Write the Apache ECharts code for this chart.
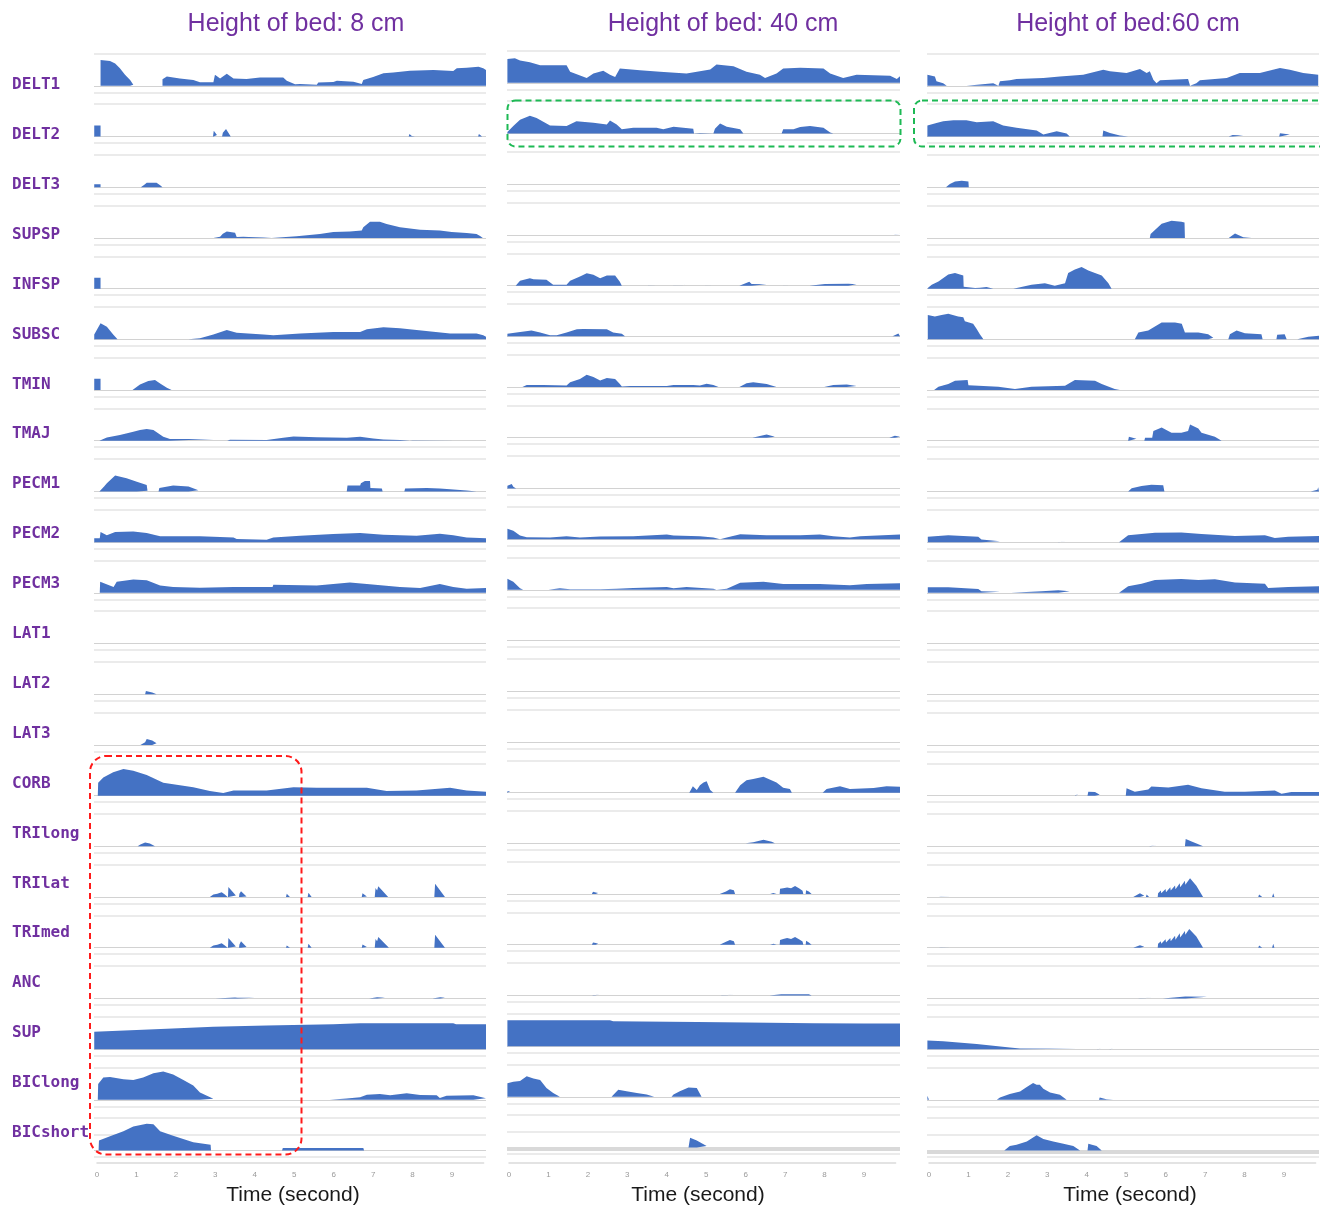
<!DOCTYPE html>
<html><head><meta charset="utf-8">
<script src="https://cdn.jsdelivr.net/npm/echarts@6/dist/echarts.min.js"></script>
<style>html,body{margin:0;padding:0;background:#fff}#c{width:1320px;height:1207px}</style>
</head><body><div id="c"></div>
<script>
// ---------- categories / titles ----------
const muscles = ['DELT1','DELT2','DELT3','SUPSP','INFSP','SUBSC','TMIN','TMAJ','PECM1','PECM2','PECM3','LAT1','LAT2','LAT3','CORB','TRIlong','TRIlat','TRImed','ANC','SUP','BIClong','BICshort'];
const bedTitles = ['Height of bed: 8 cm','Height of bed: 40 cm','Height of bed:60 cm'];
const timeTicks = [0,1,2,3,4,5,6,7,8,9];
const axisName = 'Time (second)';

// ---------- bed 8 cm : [time (s), normalised activation] ----------
const c8_DELT1 = [[0.09,0],[0.09,0.8],[0.33,0.77],[0.46,0.69],[0.58,0.54],[0.71,0.34],[0.84,0.18],[0.92,0.03],[0.94,0],[1.03,0],[1.05,0.02],[1.07,0],[1.66,0],[1.66,0.2],[1.77,0.29],[2.10,0.23],[2.44,0.18],[2.61,0.11],[2.95,0.11],[2.99,0.34],[3.12,0.23],[3.29,0.37],[3.46,0.23],[3.79,0.21],[4.13,0.26],[4.72,0.26],[4.81,0.16],[5.02,0.05],[5.15,0.06],[5.57,0.03],[5.61,0.1],[5.99,0.12],[6.08,0.16],[6.50,0.13],[6.71,0.06],[6.75,0.18],[7.00,0.27],[7.26,0.39],[7.51,0.41],[7.93,0.47],[8.53,0.49],[9.03,0.46],[9.12,0.54],[9.37,0.56],[9.67,0.59],[9.79,0.54],[9.86,0.49]];
const c8_DELT2 = [[-0.07,0],[-0.07,0.34],[0.09,0.34],[0.09,0],[2.94,0],[2.96,0.18],[3.04,0.05],[3.08,0],[3.17,0],[3.19,0.12],[3.22,0.1],[3.27,0.23],[3.39,0],[7.22,0],[7.24,0.05],[7.27,0],[7.32,0],[7.34,0.05],[7.37,0],[7.49,0],[7.51,0.04],[7.54,0],[7.9,0],[7.92,0.08],[7.98,0.02],[8.06,0],[9.66,0],[9.68,0.08],[9.76,0]];
const c8_DELT3 = [[-0.07,0],[-0.07,0.09],[0.09,0.09],[0.09,0],[0.92,0],[0.95,0.02],[1.0,0],[1.11,0],[1.11,0.05],[1.2,0.08],[1.26,0.14],[1.51,0.14],[1.6,0.06],[1.66,0]];
const c8_SUPSP = [[2.95,0],[2.97,0.06],[3.12,0.04],[3.19,0.13],[3.29,0.2],[3.5,0.16],[3.54,0.03],[3.71,0.04],[3.84,0.03],[3.88,0.01],[4.22,0.01],[4.43,0],[4.47,0.03],[5.06,0.05],[5.1,0.1],[5.65,0.12],[5.99,0.18],[6.41,0.2],[6.71,0.23],[6.75,0.33],[6.92,0.5],[7.17,0.5],[7.34,0.43],[7.68,0.33],[8.19,0.25],[8.69,0.23],[8.99,0.18],[9.37,0.15],[9.62,0.12],[9.71,0.06],[9.78,0]];
const c8_INFSP = [[-0.07,0],[-0.07,0.34],[0.09,0.34],[0.09,0],[1.43,0],[1.47,0.03],[1.51,0]];
const c8_SUBSC = [[-0.07,0.15],[0.09,0.5],[0.25,0.39],[0.41,0.15],[0.52,0],[2.32,0],[2.61,0.03],[2.95,0.15],[3.29,0.29],[3.54,0.2],[4.22,0.15],[4.47,0.13],[5.15,0.18],[5.99,0.23],[6.67,0.23],[6.84,0.31],[7.26,0.37],[7.68,0.34],[8.10,0.29],[8.95,0.18],[9.62,0.18],[9.79,0.13],[9.86,0.08]];
const c8_TMIN = [[-0.07,0],[-0.07,0.35],[0.09,0.35],[0.09,0],[0.9,0],[0.92,0.05],[1.09,0.17],[1.30,0.28],[1.47,0.31],[1.60,0.2],[1.77,0.07],[1.89,0]];
const c8_TMAJ = [[0.06,0],[0.08,0.02],[0.25,0.1],[0.58,0.18],[0.92,0.28],[1.09,0.33],[1.26,0.36],[1.43,0.33],[1.55,0.23],[1.68,0.12],[1.85,0.05],[2.95,0.05],[2.99,0],[3.3,0],[3.37,0.03],[4.3,0.02],[4.72,0.09],[4.98,0.13],[5.57,0.11],[6.33,0.09],[6.67,0.12],[7.0,0.07],[7.26,0.04],[7.68,0.02],[7.93,0],[8.0,0.01],[9.12,0.01],[9.16,0]];
const c8_PECM1 = [[0.06,0],[0.08,0.02],[0.18,0.15],[0.25,0.25],[0.46,0.49],[0.75,0.41],[1.01,0.3],[1.26,0.2],[1.28,0.02],[1.32,0],[1.56,0],[1.58,0.11],[1.93,0.18],[2.32,0.15],[2.57,0.04],[2.61,0],[6.33,0],[6.35,0.18],[6.67,0.18],[6.69,0.25],[6.79,0.32],[6.92,0.32],[6.93,0.11],[7.22,0.09],[7.24,0],[7.79,0],[7.81,0.09],[8.36,0.11],[8.69,0.09],[8.95,0.07],[9.37,0.03],[9.62,0]];
const c8_PECM2 = [[-0.07,0.12],[0.07,0.12],[0.09,0.31],[0.25,0.21],[0.46,0.31],[0.92,0.33],[1.26,0.28],[1.6,0.18],[2.61,0.18],[3.46,0.14],[3.54,0.1],[4.3,0.07],[4.47,0.14],[5.15,0.2],[5.99,0.25],[6.67,0.28],[7.26,0.23],[8.1,0.2],[8.69,0.26],[9.03,0.21],[9.37,0.14],[9.86,0.12]];
const c8_PECM3 = [[-0.07,0],[0.07,0],[0.08,0.34],[0.42,0.18],[0.5,0.34],[0.92,0.41],[1.26,0.39],[1.6,0.23],[1.93,0.18],[2.61,0.16],[3.46,0.18],[4.45,0.18],[4.47,0.25],[5.57,0.23],[6.41,0.32],[6.84,0.27],[7.68,0.18],[8.19,0.15],[8.69,0.27],[9.03,0.18],[9.37,0.13],[9.86,0.15]];
const c8_LAT1 = [];
const c8_LAT2 = [[1.06,0],[1.09,0.03],[1.12,0],[1.22,0],[1.24,0.1],[1.4,0.05],[1.51,0]];
const c8_LAT3 = [[1.0,0],[1.05,0.02],[1.08,0],[1.1,0],[1.1,0.06],[1.22,0.08],[1.26,0.18],[1.4,0.14],[1.51,0.05],[1.52,0]];
const c8_CORB = [[0.02,0],[0.03,0.4],[0.16,0.56],[0.41,0.72],[0.67,0.82],[0.92,0.77],[1.26,0.64],[1.68,0.4],[2.44,0.26],[2.86,0.14],[3.2,0.08],[3.46,0.16],[4.3,0.16],[4.98,0.26],[5.57,0.24],[6.84,0.24],[7.34,0.14],[8.1,0.16],[8.95,0.24],[9.37,0.16],[9.86,0.12]];
const c8_TRIlong = [[1.03,0],[1.05,0.05],[1.1,0.06],[1.22,0.12],[1.34,0.09],[1.47,0],[3.43,0],[3.46,0.05],[3.5,0],[4.9,0],[4.93,0.05],[4.98,0],[5.46,0],[5.48,0.03],[5.5,0]];
const c8_TRIlat = [[2.86,0],[2.88,0.04],[2.95,0.08],[2.97,0.05],[3.05,0.1],[3.07,0.06],[3.16,0.15],[3.24,0.08],[3.29,0.05],[3.31,0],[3.32,0],[3.33,0.31],[3.52,0.05],[3.54,0],[3.6,0],[3.61,0.1],[3.65,0.18],[3.79,0.02],[3.8,0],[4.0,0],[4.02,0.02],[4.05,0],[4.79,0],[4.81,0.1],[4.89,0],[5.34,0],[5.36,0.13],[5.44,0],[6.71,0],[6.73,0.12],[6.84,0.02],[6.86,0],[7.04,0],[7.06,0.28],[7.1,0.2],[7.13,0.33],[7.38,0],[8.29,0],[8.31,0.02],[8.33,0],[8.55,0],[8.57,0.41],[8.82,0],[9.18,0],[9.2,0.02],[9.22,0],[9.48,0],[9.5,0.02],[9.52,0]];
const c8_TRImed = [[2.86,0],[2.88,0.03],[2.95,0.07],[2.97,0.04],[3.05,0.09],[3.07,0.05],[3.16,0.14],[3.24,0.07],[3.29,0.04],[3.31,0],[3.32,0],[3.33,0.3],[3.52,0.04],[3.54,0],[3.6,0],[3.61,0.1],[3.65,0.2],[3.79,0.02],[3.8,0],[4.0,0],[4.02,0.02],[4.05,0],[4.79,0],[4.81,0.07],[4.89,0],[5.34,0],[5.36,0.12],[5.44,0],[5.8,0],[5.82,0.01],[6.3,0.01],[6.32,0],[6.71,0],[6.73,0.1],[6.84,0.02],[6.86,0],[7.04,0],[7.06,0.27],[7.1,0.2],[7.13,0.33],[7.4,0],[8.29,0],[8.31,0.04],[8.33,0],[8.55,0],[8.57,0.4],[8.82,0],[9.18,0],[9.2,0.02],[9.22,0],[9.48,0],[9.5,0.02],[9.52,0]];
const c8_ANC = [[3.0,0],[3.02,0.02],[3.5,0.03],[3.56,0.02],[4.0,0.02],[4.02,0],[4.2,0],[4.22,0.02],[4.25,0],[4.45,0],[4.47,0.02],[4.5,0],[4.98,0],[5.0,0.02],[5.02,0],[5.5,0],[5.52,0.02],[5.55,0],[6.9,0],[6.92,0.02],[7.1,0.04],[7.3,0.02],[7.32,0],[8.5,0],[8.52,0.02],[8.7,0.04],[8.82,0.02],[8.84,0],[9.2,0],[9.22,0.02],[9.25,0],[9.64,0],[9.66,0.02],[9.68,0]];
const c8_SUP = [[-0.07,0.54],[1.77,0.63],[2.95,0.69],[4.3,0.73],[5.99,0.77],[6.67,0.8],[9.03,0.8],[9.1,0.77],[9.86,0.77]];
const c8_BIClong = [[0.02,0],[0.03,0.49],[0.16,0.69],[0.33,0.71],[0.67,0.64],[0.92,0.61],[1.17,0.69],[1.43,0.82],[1.68,0.88],[1.93,0.78],[2.19,0.61],[2.44,0.44],[2.61,0.23],[2.95,0.03],[2.99,0],[5.04,0],[5.06,0.03],[5.1,0],[5.5,0],[5.53,0.03],[5.56,0],[5.9,0],[5.95,0.06],[6.33,0.04],[6.67,0.08],[6.84,0.16],[7.17,0.18],[7.43,0.14],[7.85,0.2],[8.19,0.15],[8.61,0.14],[8.69,0.06],[8.86,0.13],[9.54,0.14],[9.86,0.05]];
const c8_BICshort = [[0.04,0],[0.05,0.31],[0.33,0.44],[0.67,0.6],[0.92,0.74],[1.26,0.83],[1.43,0.81],[1.6,0.6],[1.93,0.46],[2.44,0.26],[2.88,0.18],[2.89,0],[4.69,0],[4.71,0.08],[6.75,0.08],[6.77,0],[8.93,0],[8.95,0.04],[9.0,0]];

// ---------- bed 40 cm ----------
const c40_DELT1 = [[-0.04,0.74],[0.15,0.76],[0.28,0.69],[0.53,0.64],[0.79,0.54],[1.46,0.54],[1.55,0.34],[1.97,0.15],[2.14,0.29],[2.39,0.37],[2.56,0.25],[2.69,0.18],[2.81,0.44],[3.32,0.39],[3.83,0.34],[4.5,0.29],[5.1,0.41],[5.26,0.57],[5.69,0.51],[6.02,0.34],[6.36,0.25],[6.49,0.15],[6.78,0.29],[6.95,0.44],[7.38,0.47],[7.97,0.44],[8.14,0.29],[8.47,0.15],[8.81,0.25],[9.66,0.22],[9.83,0.12],[9.91,0.2]];
const c40_DELT2 = [[-0.04,0.05],[0.11,0.23],[0.28,0.43],[0.53,0.55],[0.7,0.48],[1.04,0.25],[1.46,0.23],[1.71,0.38],[2.14,0.33],[2.48,0.28],[2.56,0.4],[2.73,0.28],[2.86,0.13],[3.15,0.18],[3.74,0.18],[3.91,0.13],[4.17,0.21],[4.67,0.15],[4.69,0],[4.84,0.02],[5.18,0],[5.22,0.15],[5.35,0.31],[5.52,0.21],[5.86,0.13],[5.94,0],[6.91,0],[6.95,0.13],[7.21,0.13],[7.38,0.2],[7.63,0.23],[7.97,0.18],[8.14,0.03],[8.22,0],[8.45,0],[8.47,0.02],[8.5,0],[8.82,0],[8.85,0.03],[8.9,0],[9.55,0],[9.57,0.01],[9.7,0]];
const c40_DELT3 = [];
const c40_SUPSP = [[9.76,0],[9.78,0.04],[9.91,0.04]];
const c40_INFSP = [[0.17,0],[0.19,0.03],[0.28,0.15],[0.53,0.23],[0.62,0.2],[0.95,0.18],[1.12,0.03],[1.46,0.03],[1.55,0.15],[1.8,0.28],[1.97,0.38],[2.14,0.34],[2.31,0.23],[2.48,0.31],[2.69,0.31],[2.81,0.12],[2.86,0],[3.5,0],[3.53,0.03],[3.79,0.02],[3.81,0],[4.15,0],[4.17,0.04],[4.67,0.04],[4.69,0],[4.95,0],[4.97,0.03],[5.6,0.03],[5.62,0],[5.84,0],[5.86,0.04],[6.09,0.12],[6.15,0.05],[6.53,0.04],[6.55,0],[6.93,0],[6.95,0.03],[7.38,0.02],[7.4,0],[7.61,0],[7.63,0.03],[8.01,0.05],[8.6,0.06],[8.81,0.04],[8.83,0]];
const c40_SUBSC = [[-0.04,0.08],[0.19,0.12],[0.57,0.18],[0.79,0.12],[1.04,0.03],[1.08,0],[1.21,0.03],[1.46,0.12],[1.72,0.22],[1.88,0.23],[2.48,0.22],[2.64,0.12],[2.86,0.08],[2.94,0],[9.72,0],[9.74,0.03],[9.87,0.09],[9.91,0.11]];
const c40_TMIN = [[0.34,0],[0.36,0.03],[0.45,0.06],[0.87,0.06],[1.46,0.05],[1.55,0.15],[1.8,0.25],[1.97,0.38],[2.14,0.31],[2.31,0.2],[2.48,0.28],[2.69,0.25],[2.81,0.09],[2.86,0.02],[3.07,0.03],[4.0,0.03],[4.17,0.06],[4.67,0.06],[4.84,0.05],[5.01,0.1],[5.18,0.06],[5.31,0],[5.84,0],[5.86,0.02],[6.02,0.12],[6.19,0.15],[6.53,0.09],[6.78,0],[7.99,0],[8.01,0.03],[8.22,0.06],[8.56,0.08],[8.81,0.03],[8.83,0]];
const c40_TMAJ = [[6.17,0],[6.19,0.02],[6.36,0.05],[6.53,0.1],[6.74,0.03],[6.78,0],[9.64,0],[9.66,0.03],[9.78,0.06],[9.91,0.03]];
const c40_PECM1 = [[-0.04,0.08],[0.07,0.14],[0.11,0.05],[0.18,0]];
const c40_PECM2 = [[-0.04,0.32],[0.11,0.26],[0.28,0.11],[0.45,0.06],[1.04,0.05],[1.46,0.09],[1.8,0.05],[2.31,0.08],[3.15,0.09],[4.0,0.14],[4.17,0.11],[4.84,0.09],[5.18,0.05],[5.35,0],[5.52,0.05],[5.86,0.15],[6.53,0.12],[7.38,0.12],[7.88,0.14],[8.22,0.09],[8.64,0.05],[8.9,0.09],[9.91,0.14]];
const c40_PECM3 = [[-0.04,0.34],[0.11,0.25],[0.28,0.05],[0.36,0],[1.0,0],[1.04,0.03],[1.29,0.05],[1.55,0.02],[2.31,0.02],[2.73,0.03],[3.15,0.06],[4.0,0.09],[4.17,0.05],[4.5,0.09],[5.18,0.03],[5.26,0],[5.52,0.03],[5.86,0.22],[6.45,0.25],[6.95,0.18],[7.88,0.18],[8.64,0.14],[9.07,0.18],[9.91,0.2]];
const c40_LAT1 = [];
const c40_LAT2 = [];
const c40_LAT3 = [];
const c40_CORB = [[-0.04,0.04],[0.03,0.04],[0.04,0],[4.57,0],[4.59,0.03],[4.66,0.2],[4.76,0.08],[4.84,0.23],[4.93,0.31],[5.01,0.35],[5.1,0.08],[5.18,0],[5.73,0],[5.86,0.23],[6.02,0.38],[6.19,0.42],[6.45,0.49],[6.78,0.31],[6.95,0.15],[7.12,0.11],[7.17,0],[7.35,0],[7.4,0.02],[7.5,0],[7.95,0],[7.97,0.05],[8.05,0.11],[8.39,0.2],[8.64,0.11],[9.24,0.14],[9.57,0.2],[9.91,0.18]];
const c40_TRIlong = [[6.0,0],[6.02,0.02],[6.19,0.03],[6.45,0.11],[6.66,0.05],[6.74,0]];
const c40_TRIlat = [[1.62,0],[1.65,0.05],[1.7,0],[2.0,0],[2.03,0.04],[2.06,0],[2.1,0],[2.13,0.07],[2.2,0.05],[2.26,0.03],[2.28,0],[5.34,0],[5.36,0.06],[5.5,0.08],[5.6,0.15],[5.7,0.12],[5.73,0],[6.45,0],[6.5,0.04],[6.55,0],[6.62,0],[6.65,0.06],[6.7,0.03],[6.78,0],[6.86,0],[6.87,0.16],[6.95,0.18],[7.05,0.2],[7.15,0.18],[7.25,0.25],[7.35,0.18],[7.44,0.1],[7.46,0],[7.52,0],[7.53,0.12],[7.6,0.08],[7.67,0]];
const c40_TRImed = [[1.62,0],[1.65,0.04],[1.7,0],[2.0,0],[2.03,0.04],[2.06,0],[2.1,0],[2.13,0.07],[2.2,0.05],[2.26,0.03],[2.28,0],[5.34,0],[5.36,0.06],[5.5,0.09],[5.6,0.15],[5.7,0.11],[5.73,0],[6.45,0],[6.5,0.03],[6.55,0],[6.62,0],[6.65,0.06],[6.7,0.03],[6.78,0],[6.86,0],[6.87,0.15],[6.95,0.18],[7.05,0.21],[7.15,0.18],[7.25,0.24],[7.35,0.17],[7.44,0.1],[7.46,0],[7.52,0],[7.53,0.12],[7.6,0.07],[7.67,0]];
const c40_ANC = [[1.68,0],[1.7,0.03],[1.72,0],[2.1,0],[2.15,0.03],[2.3,0.03],[2.32,0],[5.35,0],[5.4,0.03],[5.75,0.03],[5.78,0],[6.6,0],[6.65,0.03],[6.9,0.04],[7.6,0.04],[7.67,0]];
const c40_SUP = [[-0.04,0.8],[2.56,0.8],[2.64,0.77],[4.76,0.75],[6.02,0.73],[7.71,0.71],[8.98,0.7],[9.91,0.7]];
const c40_BIClong = [[-0.04,0.42],[0.11,0.47],[0.28,0.49],[0.45,0.64],[0.62,0.57],[0.79,0.52],[0.95,0.27],[1.12,0.12],[1.29,0],[2.6,0],[2.69,0.12],[2.77,0.22],[2.98,0.17],[3.24,0.12],[3.49,0.07],[3.68,0],[4.12,0],[4.17,0.07],[4.33,0.17],[4.55,0.29],[4.76,0.27],[4.88,0],[9.85,0],[9.87,0.02],[9.91,0]];
const c40_BICshort = [[4.55,0],[4.59,0.3],[4.76,0.22],[5.01,0.05],[5.05,0],[9.55,0],[9.57,0.04],[9.65,0]];

// ---------- bed 60 cm ----------
const c60_DELT1 = [[-0.04,0.34],[0.15,0.29],[0.19,0.14],[0.36,0.08],[0.45,0],[0.95,0],[1.0,0.05],[1.63,0.08],[1.76,0],[1.8,0.14],[2.05,0.17],[2.22,0.21],[2.9,0.24],[3.32,0.29],[3.91,0.34],[4.42,0.5],[4.59,0.45],[5.01,0.4],[5.35,0.52],[5.52,0.4],[5.6,0.45],[5.69,0.19],[5.77,0.08],[5.86,0.17],[6.57,0.21],[6.62,0],[6.78,0.08],[6.87,0.17],[7.55,0.24],[7.88,0.4],[8.39,0.4],[8.9,0.55],[9.15,0.5],[9.49,0.4],[9.87,0.34]];
const c60_DELT2 = [[-0.04,0.34],[0.19,0.42],[0.36,0.47],[0.62,0.5],[0.95,0.5],[1.21,0.44],[1.63,0.47],[1.88,0.34],[2.22,0.27],[2.73,0.19],[2.9,0.06],[3.24,0.16],[3.49,0.09],[3.57,0],[4.4,0],[4.42,0.19],[4.59,0.11],[4.84,0.03],[5.05,0],[5.3,0],[5.32,0.02],[5.34,0],[7.6,0],[7.63,0.03],[7.7,0.05],[7.97,0.03],[8.0,0],[8.88,0],[8.9,0.1],[9.15,0.06],[9.2,0],[9.3,0],[9.32,0.02],[9.35,0]];
const c60_DELT3 = [[0.43,0],[0.53,0.1],[0.66,0.18],[0.83,0.2],[1.0,0.18],[1.01,0]];
const c60_SUPSP = [[5.6,0],[5.62,0.12],[5.9,0.44],[6.15,0.53],[6.4,0.5],[6.48,0.48],[6.49,0],[7.6,0],[7.63,0.03],[7.76,0.14],[7.97,0.02],[8.18,0],[8.79,0],[8.81,0.02],[8.84,0]];
const c60_INFSP = [[-0.03,0.02],[0.07,0.12],[0.24,0.22],[0.49,0.44],[0.66,0.48],[0.87,0.41],[0.88,0.06],[1.17,0.02],[1.29,0.03],[1.46,0.05],[1.63,0],[2.14,0],[2.6,0.12],[2.94,0.17],[3.19,0.09],[3.45,0.17],[3.53,0.48],[3.7,0.59],[3.87,0.67],[4.04,0.56],[4.21,0.48],[4.38,0.41],[4.55,0.17],[4.63,0]];
const c60_SUBSC = [[-0.03,0.75],[0.15,0.71],[0.32,0.75],[0.49,0.79],[0.74,0.71],[0.87,0.68],[0.91,0.56],[1.12,0.48],[1.21,0.32],[1.29,0.16],[1.38,0],[5.22,0],[5.31,0.21],[5.56,0.27],[5.73,0.4],[5.9,0.52],[6.24,0.52],[6.41,0.48],[6.49,0.21],[6.83,0.21],[7.08,0.16],[7.21,0.05],[7.25,0],[7.59,0],[7.63,0.16],[7.8,0.27],[8.01,0.19],[8.43,0.16],[8.46,0],[8.81,0],[8.83,0.14],[9.02,0.16],[9.07,0],[9.34,0],[9.36,0.05],[9.62,0.08],[9.89,0.11]];
const c60_TMIN = [[0.13,0],[0.15,0.02],[0.24,0.1],[0.49,0.19],[0.66,0.29],[0.98,0.31],[1.0,0.15],[1.76,0.1],[2.18,0.03],[2.6,0.1],[3.45,0.13],[3.7,0.31],[4.21,0.29],[4.38,0.19],[4.71,0.03],[4.84,0]];
const c60_TMAJ = [[5.05,0],[5.07,0.12],[5.26,0.06],[5.31,0],[5.46,0],[5.48,0.09],[5.66,0.09],[5.69,0.3],[5.9,0.41],[6.15,0.25],[6.4,0.25],[6.57,0.3],[6.62,0.5],[6.83,0.38],[6.91,0.25],[7.25,0.12],[7.42,0],[7.78,0],[7.8,0.03],[7.84,0],[8.07,0],[8.09,0.02],[8.12,0],[8.5,0],[8.52,0.02],[8.55,0]];
const c60_PECM1 = [[5.05,0],[5.07,0.03],[5.14,0.1],[5.39,0.17],[5.64,0.21],[5.94,0.19],[5.97,0],[9.68,0],[9.7,0.05],[9.85,0.05],[9.87,0.13],[9.89,0.13]];
const c60_PECM2 = [[-0.03,0.17],[0.49,0.21],[1.25,0.17],[1.33,0.08],[1.8,0.03],[1.84,0],[2.08,0],[2.1,0.02],[2.14,0],[3.26,0],[3.28,0.03],[3.53,0.03],[3.55,0],[4.82,0],[4.84,0.02],[5.05,0.21],[5.73,0.29],[6.4,0.3],[6.91,0.25],[7.76,0.19],[8.52,0.21],[8.77,0.13],[9.11,0.17],[9.89,0.19]];
const c60_PECM3 = [[-0.03,0.17],[0.49,0.17],[1.25,0.12],[1.33,0.05],[1.8,0.03],[1.84,0],[2.08,0],[2.1,0.03],[2.86,0.05],[3.28,0.08],[3.57,0.05],[3.62,0],[4.82,0],[4.84,0.03],[5.05,0.2],[5.39,0.28],[5.73,0.4],[6.4,0.43],[6.83,0.4],[7.25,0.42],[7.76,0.32],[8.52,0.28],[8.6,0.15],[9.11,0.18],[9.89,0.2]];
const c60_LAT1 = [];
const c60_LAT2 = [];
const c60_LAT3 = [[7.27,0],[7.29,0.02],[7.31,0]];
const c60_CORB = [[3.7,0],[3.72,0.03],[3.79,0.06],[3.84,0],[4.02,0],[4.04,0.12],[4.21,0.11],[4.33,0.03],[4.36,0],[4.99,0],[5.01,0.23],[5.22,0.12],[5.56,0.19],[5.64,0.28],[6.07,0.25],[6.57,0.34],[6.91,0.23],[7.5,0.12],[8.01,0.12],[8.77,0.16],[8.94,0.06],[9.19,0.11],[9.89,0.11]];
const c60_TRIlong = [[5.05,0],[5.07,0.03],[5.09,0],[5.58,0],[5.62,0.04],[5.77,0.03],[5.79,0],[6.3,0],[6.32,0.03],[6.34,0],[6.49,0],[6.51,0.23],[6.6,0.18],[6.66,0.15],[6.8,0.08],[6.95,0]];
const c60_TRIlat = [[0.25,0],[0.3,0.03],[0.55,0.03],[0.57,0],[5.18,0],[5.2,0.05],[5.35,0.12],[5.46,0.04],[5.48,0],[5.5,0],[5.52,0.08],[5.58,0],[5.8,0],[5.81,0.12],[5.88,0.2],[5.89,0.12],[6.0,0.25],[6.01,0.15],[6.12,0.3],[6.13,0.2],[6.24,0.36],[6.25,0.24],[6.36,0.43],[6.37,0.3],[6.49,0.5],[6.5,0.38],[6.62,0.58],[6.78,0.35],[6.95,0],[8.35,0],[8.37,0.08],[8.45,0],[8.7,0],[8.73,0.12],[8.76,0]];
const c60_TRImed = [[0.25,0],[0.3,0.02],[0.55,0.02],[0.57,0],[5.18,0],[5.2,0.05],[5.35,0.08],[5.46,0.03],[5.48,0],[5.5,0],[5.52,0.06],[5.58,0],[5.8,0],[5.81,0.12],[5.88,0.2],[5.89,0.12],[6.0,0.26],[6.01,0.16],[6.12,0.3],[6.13,0.2],[6.24,0.37],[6.25,0.25],[6.36,0.45],[6.37,0.32],[6.49,0.52],[6.5,0.4],[6.6,0.58],[6.78,0.35],[6.95,0],[8.35,0],[8.37,0.07],[8.45,0],[8.7,0],[8.73,0.12],[8.76,0]];
const c60_ANC = [[0.4,0],[0.43,0.03],[0.46,0],[5.3,0],[5.35,0.03],[5.7,0.03],[5.73,0],[5.93,0],[5.95,0.05],[6.5,0.06],[7.05,0.05],[7.08,0],[8.45,0],[8.5,0.03],[8.55,0],[8.8,0],[8.85,0.03],[8.9,0]];
const c60_SUP = [[-0.04,0.27],[0.36,0.24],[1.21,0.16],[2.05,0.05],[2.31,0.02],[3.74,0.01],[3.76,0],[4.25,0],[4.27,0.02],[4.4,0.02],[4.42,0],[4.57,0],[4.59,0.02],[4.7,0.02],[4.72,0]];
const c60_BIClong = [[-0.04,0.13],[0.0,0],[1.72,0],[1.8,0.07],[2.05,0.18],[2.31,0.26],[2.47,0.39],[2.64,0.52],[2.73,0.47],[2.81,0.47],[2.9,0.34],[3.07,0.23],[3.32,0.16],[3.49,0],[4.31,0],[4.33,0.07],[4.5,0.02],[4.67,0.02],[4.69,0]];
const c60_BICshort = [[1.91,0],[1.93,0.05],[2.05,0.14],[2.22,0.18],[2.48,0.28],[2.73,0.47],[2.9,0.36],[3.15,0.28],[3.41,0.21],[3.66,0.14],[3.83,0],[4.02,0],[4.04,0.21],[4.25,0.14],[4.38,0],[4.95,0],[5.01,0.03],[5.05,0]];

// ---------- assemble ----------
const bed8 = [c8_DELT1,c8_DELT2,c8_DELT3,c8_SUPSP,c8_INFSP,c8_SUBSC,c8_TMIN,c8_TMAJ,c8_PECM1,c8_PECM2,c8_PECM3,c8_LAT1,c8_LAT2,c8_LAT3,c8_CORB,c8_TRIlong,c8_TRIlat,c8_TRImed,c8_ANC,c8_SUP,c8_BIClong,c8_BICshort];
const bed40 = [c40_DELT1,c40_DELT2,c40_DELT3,c40_SUPSP,c40_INFSP,c40_SUBSC,c40_TMIN,c40_TMAJ,c40_PECM1,c40_PECM2,c40_PECM3,c40_LAT1,c40_LAT2,c40_LAT3,c40_CORB,c40_TRIlong,c40_TRIlat,c40_TRImed,c40_ANC,c40_SUP,c40_BIClong,c40_BICshort];
const bed60 = [c60_DELT1,c60_DELT2,c60_DELT3,c60_SUPSP,c60_INFSP,c60_SUBSC,c60_TMIN,c60_TMAJ,c60_PECM1,c60_PECM2,c60_PECM3,c60_LAT1,c60_LAT2,c60_LAT3,c60_CORB,c60_TRIlong,c60_TRIlat,c60_TRImed,c60_ANC,c60_SUP,c60_BIClong,c60_BICshort];
const beds = [bed8, bed40, bed60];

// break the filled area across silent (zero) stretches so no empty sliver is drawn
function withGaps(vals) {
  const out = [];
  vals.forEach((p, i) => {
    out.push(p);
    const n = vals[i + 1];
    if (n && p[1] === 0 && n[1] === 0) out.push([p[0], '-']);
  });
  return out;
}

// layout
const colLeft = [94, 507, 927];
const colWidth = [392, 393, 392];
const colXMin = [-0.076, -0.05, -0.05];
const colXMax = [9.86, 9.91, 9.89];
const colYOff = [0, -3, 0];
const axisLeft = [97, 509, 929];
const titleX = [296, 723, 1128];
const axisNameX = [293, 698, 1130];
const rowTop0 = 53.5, rowPitch = 50.7, cellH = 38.8;
const BLUE = '#4472C4', PURPLE = '#7030A0';

const grids = [], xAxes = [], yAxes = [], series = [], graphics = [];
beds.forEach((bed, c) => {
  bed.forEach((vals, r) => {
    const gi = grids.length;
    grids.push({left: colLeft[c], width: colWidth[c], top: rowTop0 + r*rowPitch + colYOff[c], height: cellH});
    xAxes.push({type:'value', gridIndex: gi, min: colXMin[c], max: colXMax[c], show: false});
    yAxes.push({type:'value', gridIndex: gi, min: -0.2, max: 1, show: false});
    const lines = [
      {yAxis: 1, lineStyle: {color: '#e4e4e4', width: 1.5}},
      {yAxis: 0, lineStyle: {color: '#d2d2d2', width: 1.2}},
      {yAxis: -0.2, lineStyle: {color: '#e4e4e4', width: 1.5}}
    ];
    if (r === muscles.length - 1) {
      lines.push({yAxis: 0.5, lineStyle: {color: '#e4e4e4', width: 1.5}});
      if (c > 0) lines.push({yAxis: -0.05, lineStyle: {color: '#d9d9d9', width: 4}});
    }
    series.push({
      type: 'line', name: muscles[r], xAxisIndex: gi, yAxisIndex: gi, data: withGaps(vals),
      connectNulls: false,
      showSymbol: false, symbol: 'none', silent: true, animation: false, z: 3,
      lineStyle: {width: 0, opacity: 0, color: BLUE}, itemStyle: {color: BLUE},
      areaStyle: {color: BLUE, opacity: 1, origin: 0},
      markLine: {silent: true, symbol: 'none', animation: false, label: {show: false},
        lineStyle: {type: 'solid'}, z: 1, data: lines}
    });
  });
  // time axis per column
  const gi = grids.length;
  grids.push({left: axisLeft[c], width: 386.6, top: 1162, height: 1});
  xAxes.push({type: 'value', gridIndex: gi, min: timeTicks[0], max: 9.8, interval: 1,
    axisLine: {lineStyle: {color: '#dadada', width: 1.5}}, axisTick: {show: false}, splitLine: {show: false},
    axisLabel: {color: '#9a9a9a', fontSize: 8, margin: 8, fontFamily: 'Liberation Sans',
      formatter: v => timeTicks.indexOf(v) >= 0 ? String(v) : ''}});
  yAxes.push({type: 'value', gridIndex: gi, show: false});
  graphics.push({type: 'text', x: axisNameX[c], y: 1195, silent: true,
    style: {text: axisName, fill: '#1a1a1a', font: '21px "Liberation Sans", Arial, sans-serif', align: 'center', verticalAlign: 'middle'}});
  graphics.push({type: 'text', x: titleX[c], y: 24, silent: true,
    style: {text: bedTitles[c], fill: PURPLE, font: '25px "Liberation Sans", Arial, sans-serif', align: 'center', verticalAlign: 'middle'}});
});

muscles.forEach((m, r) => {
  graphics.push({type: 'text', x: 12, y: 85 + r*49.9, silent: true,
    style: {text: m, fill: PURPLE, font: 'bold 16px "DejaVu Sans Mono", monospace', align: 'left', verticalAlign: 'middle'}});
});

// dashed annotation boxes
graphics.push({type: 'rect', silent: true, z: 100, shape: {x: 90, y: 756, width: 211.5, height: 398.5, r: 16},
  style: {fill: 'none', stroke: '#FF1A1A', lineWidth: 2, lineDash: [6, 4]}});
graphics.push({type: 'rect', silent: true, z: 100, shape: {x: 507.5, y: 100.5, width: 393, height: 46, r: 8},
  style: {fill: 'none', stroke: '#1DB954', lineWidth: 2, lineDash: [6, 4]}});
graphics.push({type: 'rect', silent: true, z: 100, shape: {x: 914, y: 100.5, width: 420, height: 46, r: 8},
  style: {fill: 'none', stroke: '#1DB954', lineWidth: 2, lineDash: [6, 4]}});

const chart = echarts.init(document.getElementById('c'), null, {renderer: 'canvas'});
chart.setOption({
  animation: false,
  backgroundColor: '#ffffff',
  grid: grids, xAxis: xAxes, yAxis: yAxes, series: series,
  graphic: graphics
});
</script>
</body></html>
